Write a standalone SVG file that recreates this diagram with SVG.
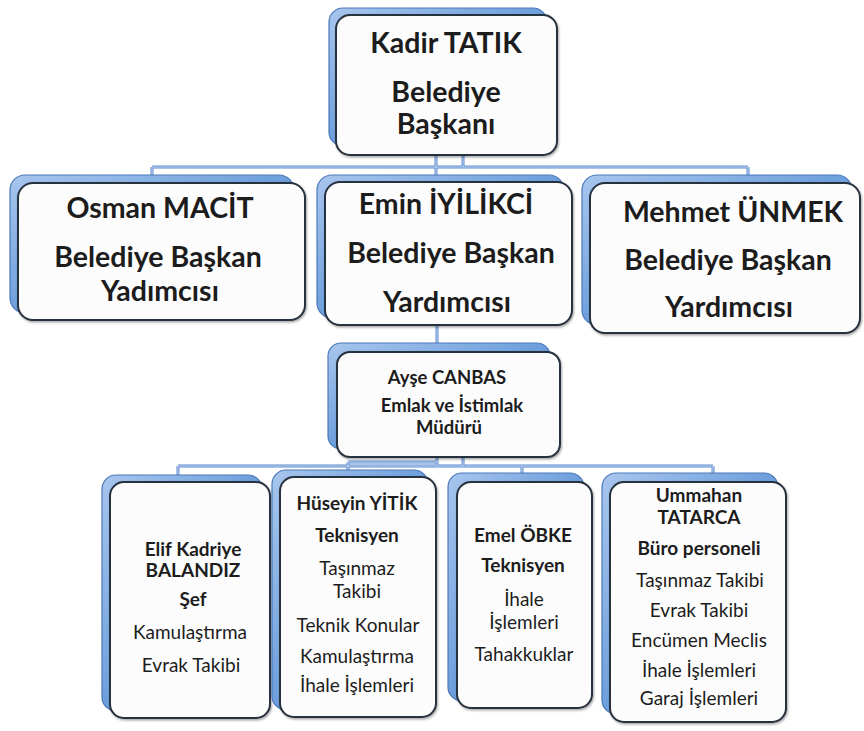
<svg xmlns="http://www.w3.org/2000/svg" width="864" height="731" viewBox="0 0 864 731">
<defs>
<linearGradient id="blue" x1="0" y1="0" x2="1" y2="1">
<stop offset="0" stop-color="#a8c6ee"/>
<stop offset="0.5" stop-color="#6d9fdc"/>
<stop offset="1" stop-color="#3d6db0"/>
</linearGradient>
<filter id="sh" x="-10%" y="-10%" width="120%" height="120%">
<feDropShadow dx="1" dy="1.5" stdDeviation="1.2" flood-color="#000" flood-opacity="0.35"/>
</filter>
</defs>
<style>
.back{fill:url(#blue);stroke:#4a78b8;stroke-width:1.2}
.front{fill:#fcfcfd;stroke:#27303d;stroke-width:2;filter:url(#sh)}
text{font-family:Lato,"Liberation Sans",sans-serif;fill:#1c1c1c;text-anchor:middle}
.b{font-weight:bold}
.big{font-size:28.5px}
.mid{font-size:18.5px}
.sm{font-size:19px}
.cout{fill:none;stroke:#5b8bd0;stroke-width:3}
.cin{fill:none;stroke:#d6e4f6;stroke-width:0.9}
</style>
<rect width="864" height="731" fill="#ffffff"/>
<g id="connectors">
<path id="cp" d="M436,155V182M463,155V167M152,167H748M152,167V177M748,167V177M437,325V352M437,457V466M463,457V466M178,466H713M178,466V477M348,462H437M348,462V471M522,466V475M713,466V475"/>
<use href="#cp" class="cout"/>
<use href="#cp" class="cin"/>
</g>
<g id="n-kadir">
<rect class="back" x="329" y="8" width="218" height="138" rx="14"/>
<rect class="front" x="336" y="15" width="221" height="140" rx="14"/>
<text class="b big" x="446" y="53">Kadir TATIK</text>
<text class="b big" x="446" y="102">Belediye</text>
<text class="b big" x="446" y="134">Başkanı</text>
</g>
<g id="n-osman">
<rect class="back" x="10" y="175" width="284" height="138" rx="15"/>
<rect class="front" x="18" y="183" width="287" height="137" rx="15"/>
<text class="b big" x="160" y="218">Osman MACİT</text>
<text class="b big" x="158" y="267">Belediye Başkan</text>
<text class="b big" x="160" y="301">Yadımcısı</text>
</g>
<g id="n-emin">
<rect class="back" x="317" y="175" width="247" height="143" rx="15"/>
<rect class="front" x="325" y="182" width="247" height="143" rx="15"/>
<text class="b big" x="446" y="214">Emin İYİLİKCİ</text>
<text class="b big" x="451" y="263">Belediye Başkan</text>
<text class="b big" x="447" y="312">Yardımcısı</text>
</g>
<g id="n-mehmet">
<rect class="back" x="582" y="175" width="270" height="150" rx="15"/>
<rect class="front" x="590" y="183" width="270" height="150" rx="15"/>
<text class="b big" x="733" y="222">Mehmet ÜNMEK</text>
<text class="b big" x="728" y="270">Belediye Başkan</text>
<text class="b big" x="729" y="317">Yardımcısı</text>
</g>
<g id="n-ayse">
<rect class="back" x="328" y="343" width="222" height="106" rx="13"/>
<rect class="front" x="337" y="352" width="223" height="105" rx="13"/>
<text class="b mid" x="447" y="384">Ayşe CANBAS</text>
<text class="b mid" x="452" y="412">Emlak ve İstimlak</text>
<text class="b mid" x="449" y="434">Müdürü</text>
</g>
<g id="n-elif">
<rect class="back" x="102" y="475" width="160" height="236" rx="14"/>
<rect class="front" x="110" y="482" width="160" height="236" rx="14"/>
<text class="b sm" x="193" y="556">Elif Kadriye</text>
<text class="b sm" x="193" y="577">BALANDIZ</text>
<text class="b sm" x="193" y="606">Şef</text>
<text class="sm" x="190" y="639">Kamulaştırma</text>
<text class="sm" x="191" y="672">Evrak Takibi</text>
</g>
<g id="n-huseyin">
<rect class="back" x="272" y="470" width="156" height="240" rx="14"/>
<rect class="front" x="280" y="477" width="156" height="240" rx="14"/>
<text class="b sm" x="357" y="510">Hüseyin YİTİK</text>
<text class="b sm" x="357" y="542">Teknisyen</text>
<text class="sm" x="357" y="575">Taşınmaz</text>
<text class="sm" x="357" y="598">Takibi</text>
<text class="sm" x="358" y="632">Teknik Konular</text>
<text class="sm" x="357" y="663">Kamulaştırma</text>
<text class="sm" x="357" y="692">İhale İşlemleri</text>
</g>
<g id="n-emel">
<rect class="back" x="448" y="473" width="136" height="228" rx="14"/>
<rect class="front" x="457" y="482" width="135" height="226" rx="14"/>
<text class="b sm" x="523" y="542">Emel ÖBKE</text>
<text class="b sm" x="523" y="572">Teknisyen</text>
<text class="sm" x="524" y="606">İhale</text>
<text class="sm" x="524" y="629">İşlemleri</text>
<text class="sm" x="524" y="661">Tahakkuklar</text>
</g>
<g id="n-ummahan">
<rect class="back" x="602" y="473" width="176" height="241" rx="14"/>
<rect class="front" x="610" y="482" width="176" height="240" rx="14"/>
<text class="b sm" x="699" y="502">Ummahan</text>
<text class="b sm" x="699" y="524">TATARCA</text>
<text class="b sm" x="699" y="555">Büro personeli</text>
<text class="sm" x="700" y="587">Taşınmaz Takibi</text>
<text class="sm" x="699" y="617">Evrak Takibi</text>
<text class="sm" x="699" y="647">Encümen Meclis</text>
<text class="sm" x="699" y="677">İhale İşlemleri</text>
<text class="sm" x="699" y="705">Garaj İşlemleri</text>
</g>
</svg>
